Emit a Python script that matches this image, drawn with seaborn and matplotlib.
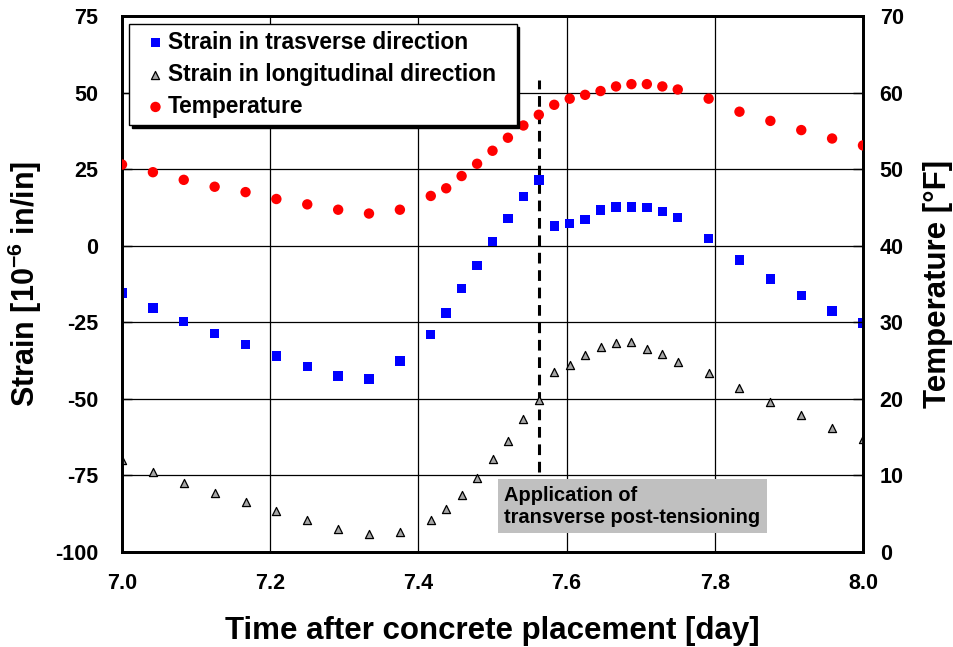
import matplotlib
matplotlib.use("Agg")
import matplotlib.pyplot as plt
import seaborn as sns
import pandas as pd
from matplotlib.ticker import FormatStrFormatter

# Time after concrete placement [day]
days = [7.0000, 7.0417, 7.0833, 7.1250, 7.1667, 7.2083, 7.2500, 7.2917, 7.3333,
        7.3750, 7.4167, 7.4375, 7.4583, 7.4792, 7.5000, 7.5208, 7.5417, 7.5625,
        7.5833, 7.6042, 7.6250, 7.6458, 7.6667, 7.6875, 7.7083, 7.7292, 7.7500,
        7.7917, 7.8333, 7.8750, 7.9167, 7.9583, 8.0000]

# Strain [1e-6 in/in]
strain_transverse = [-15.4, -20.3, -24.8, -28.7, -32.3, -36.0, -39.5, -42.6, -43.5,
                     -37.7, -28.9, -21.9, -14.0, -6.4, 1.3, 8.9, 16.1, 21.4,
                     6.4, 7.3, 8.5, 11.6, 12.7, 12.7, 12.5, 11.1, 9.3,
                     2.3, -4.7, -10.9, -16.3, -21.3, -25.3]
strain_longitudinal = [-70.0, -73.8, -77.5, -80.7, -83.8, -86.7, -89.6, -92.5, -94.1,
                       -93.4, -89.5, -86.0, -81.4, -75.7, -69.7, -63.7, -56.6, -50.3,
                       -41.3, -39.0, -35.7, -33.2, -31.9, -31.4, -33.6, -35.4, -38.0,
                       -41.7, -46.4, -51.0, -55.4, -59.5, -63.1]

# Concrete temperature [F]
temperature = [50.6, 49.6, 48.6, 47.7, 47.0, 46.1, 45.4, 44.7, 44.2,
               44.7, 46.5, 47.5, 49.1, 50.7, 52.4, 54.1, 55.7, 57.1,
               58.4, 59.2, 59.7, 60.2, 60.8, 61.1, 61.1, 60.8, 60.4,
               59.2, 57.5, 56.3, 55.1, 54.0, 53.1]

post_tension_day = 7.5625

x_ticks = [7.0, 7.2, 7.4, 7.6, 7.8, 8.0]
strain_ticks = [-100, -75, -50, -25, 0, 25, 50, 75]
temp_ticks = [0, 10, 20, 30, 40, 50, 60, 70]

df = pd.DataFrame({"day": days, "trans": strain_transverse,
                   "long": strain_longitudinal, "temp": temperature})

sns.set_style("white")
FONT = ["Liberation Sans", "DejaVu Sans"]
plt.rcParams["font.family"] = FONT
plt.rcParams["font.weight"] = "bold"
plt.rcParams["axes.labelweight"] = "bold"
plt.rcParams["axes.unicode_minus"] = False
plt.rcParams["text.color"] = "black"
plt.rcParams["axes.labelcolor"] = "black"
plt.rcParams["xtick.color"] = "black"
plt.rcParams["ytick.color"] = "black"
plt.rcParams["mathtext.fontset"] = "custom"
plt.rcParams["mathtext.rm"] = "Liberation Sans:bold"
plt.rcParams["mathtext.bf"] = "Liberation Sans:bold"
plt.rcParams["mathtext.default"] = "bf"

fig = plt.figure(figsize=(9.54, 6.47), dpi=100)
ax = fig.add_axes([0.1279, 0.1468, 0.7767, 0.8285])
ax2 = ax.twinx()

sns.scatterplot(data=df, x="day", y="trans", ax=ax, marker="s", color="#0000FF",
                s=46, edgecolor="none", linewidth=0, zorder=3, legend=False)
sns.scatterplot(data=df, x="day", y="long", ax=ax, marker="^", color="#A6A6A6",
                s=34, edgecolor="black", linewidth=0.9, zorder=3, legend=False)
sns.scatterplot(data=df, x="day", y="temp", ax=ax2, marker="o", color="#FF0000",
                s=56, edgecolor="none", linewidth=0, zorder=3, legend=False)

ax.set_xlim(7.0, 8.0)
ax.set_ylim(-100, 75)
ax2.set_ylim(0, 70)
ax.set_xticks(x_ticks)
ax.set_yticks(strain_ticks)
ax2.set_yticks(temp_ticks)
ax.xaxis.set_major_formatter(FormatStrFormatter("%.1f"))

ax.grid(True, color="black", linewidth=0.9)
ax.set_axisbelow(True)

for a in (ax, ax2):
    for sp in a.spines.values():
        sp.set_linewidth(2.0)
        sp.set_color("black")
ax.tick_params(axis="both", direction="in", length=7, width=1, labelsize=15.5)
ax.tick_params(axis="y", pad=17)
ax.tick_params(axis="x", pad=15)
ax2.tick_params(axis="y", direction="in", length=7, width=1, labelsize=15.5, pad=12)

ax.set_xlabel("Time after concrete placement [day]", fontsize=22.5, labelpad=16)
ax.set_ylabel(r"Strain [10$^{-6}$ in/in]", fontsize=22, labelpad=8)
ax2.set_ylabel("Temperature [°F]", fontsize=22.5, labelpad=14)

# event marker for transverse post-tensioning
ax.vlines(post_tension_day, -74, 54, colors="black", linestyles=(0, (3.5, 2.2)),
          linewidth=2.2, zorder=2)
ax.text(7.516, -85.0, "Application of\ntransverse post-tensioning",
        fontsize=14.4, fontweight="bold", ha="left", va="center", linespacing=1.2,
        bbox=dict(facecolor="#C0C0C0", edgecolor="none", boxstyle="square,pad=0.32"),
        zorder=4)

handles = ax.collections[:2] + ax2.collections[:1]
labels = ["Strain in trasverse direction", "Strain in longitudinal direction", "Temperature"]
leg = ax2.legend(handles, labels, loc="upper left", mode="expand",
                 bbox_to_anchor=(0.0098, 0.5, 0.5228, 0.4853), borderaxespad=0,
                 prop={"family": FONT, "weight": "bold", "size": 16.4},
                 frameon=True, fancybox=False, edgecolor="black", framealpha=1,
                 shadow={"color": "black", "alpha": 1},
                 handlelength=1.7, handletextpad=-0.3, borderpad=0.3, labelspacing=0.4,
                 scatterpoints=1)
leg.get_frame().set_linewidth(1.0)
leg.set_zorder(10)

fig.savefig("out.png", dpi=100)
